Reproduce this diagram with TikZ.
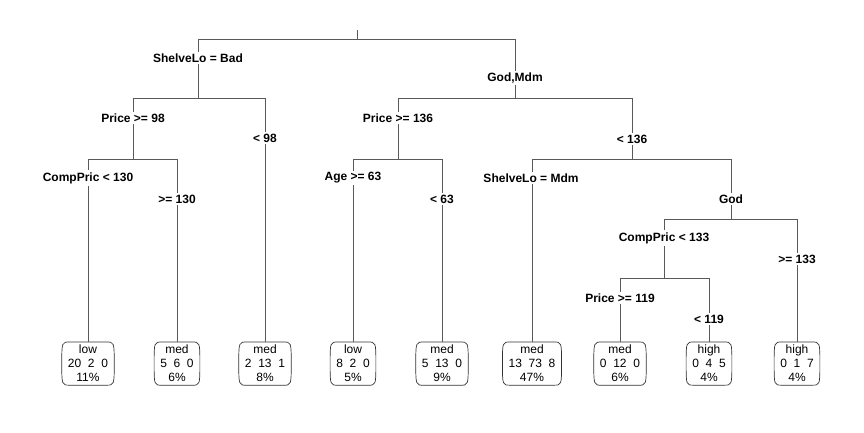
\documentclass[tikz,border=0pt]{standalone}
\usepackage{fontspec}
\setmainfont{Liberation Sans}

\tikzset{
    branch/.style={draw=black!65, line width=0.8pt},
    leafline/.style={draw=black!80, line width=0.7pt},
    splitlabel/.style={fill=white, inner xsep=1pt, inner ysep=2pt, font=\bfseries\fontsize{12}{14}\selectfont},
    leafbox/.style={align=center, anchor=north, inner xsep=6pt, inner ysep=3pt,
        font=\fontsize{12}{14}\selectfont},
}

\begin{document}
\begin{tikzpicture}[x=1pt, y=-1pt]
    \useasboundingbox (0,0) rectangle (864,432);

    % split points
    \coordinate (top) at (357,30);
    \coordinate (n1) at (357,39);
    \coordinate (n2) at (198,98);
    \coordinate (n3) at (515,98);
    \coordinate (n4) at (133,159);
    \coordinate (n5) at (398,159);
    \coordinate (n6) at (632,159);
    \coordinate (n7) at (731,219);
    \coordinate (n8) at (664,278);

    % leaves
    \node[leafbox] (l1) at (88,342) {low\\20~~2~~0\\11\%};
    \node[leafbox] (l2) at (177,342) {med\\5~~6~~0\\6\%};
    \node[leafbox] (l3) at (265,342) {med\\2~~13~~1\\8\%};
    \node[leafbox] (l4) at (353,342) {low\\8~~2~~0\\5\%};
    \node[leafbox] (l5) at (442,342) {med\\5~~13~~0\\9\%};
    \node[leafbox] (l6) at (532,342) {med\\13~~73~~8\\47\%};
    \node[leafbox] (l7) at (620,342) {med\\0~~12~~0\\6\%};
    \node[leafbox] (l8) at (709,342) {high\\0~~4~~5\\4\%};
    \node[leafbox] (l9) at (797,342) {high\\0~~1~~7\\4\%};

    % barrel outlines of the leaves
    \foreach \leaf in {l1,l2,l3,l4,l5,l6,l7,l8,l9}
        \draw[leafline] ([xshift=8pt]\leaf.north west) -- ([xshift=-8pt]\leaf.north east)
            .. controls (\leaf.north east) .. (\leaf.east)
            .. controls (\leaf.south east) .. ([xshift=-8pt]\leaf.south east)
            -- ([xshift=8pt]\leaf.south west)
            .. controls (\leaf.south west) .. (\leaf.west)
            .. controls (\leaf.north west) .. cycle;

    % branches
    \draw[branch] (top) -- (n1);
    \draw[branch] (n1) -| (n2);
    \draw[branch] (n1) -| (n3);
    \draw[branch] (n2) -| (n4);
    \draw[branch] (n2) -| (l3.north);
    \draw[branch] (n4) -| (l1.north);
    \draw[branch] (n4) -| (l2.north);
    \draw[branch] (n3) -| (n5);
    \draw[branch] (n3) -| (n6);
    \draw[branch] (n5) -| (l4.north);
    \draw[branch] (n5) -| (l5.north);
    \draw[branch] (n6) -| (l6.north);
    \draw[branch] (n6) -| (n7);
    \draw[branch] (n7) -| (n8);
    \draw[branch] (n7) -| (l9.north);
    \draw[branch] (n8) -| (l7.north);
    \draw[branch] (n8) -| (l8.north);

    % split labels
    \node[splitlabel] (s1) at (198,58) {ShelveLo = Bad};
    \node[splitlabel] (s2) at (515,78) {God,Mdm};
    \node[splitlabel] (s3) at (133,118) {Price >= 98};
    \node[splitlabel] (s4) at (265,138) {< 98};
    \node[splitlabel] (s5) at (88,178) {CompPric < 130};
    \node[splitlabel] (s6) at (177,199) {>= 130};
    \node[splitlabel] (s7) at (398,118) {Price >= 136};
    \node[splitlabel] (s8) at (632,139) {< 136};
    \node[splitlabel] (s9) at (353,178) {Age >= 63};
    \node[splitlabel] (s10) at (442,199) {< 63};
    \node[splitlabel] (s11) at (531,178) {ShelveLo = Mdm};
    \node[splitlabel] (s12) at (731,199) {God};
    \node[splitlabel] (s13) at (664,238) {CompPric < 133};
    \node[splitlabel] (s14) at (797,259) {>= 133};
    \node[splitlabel] (s15) at (620,298) {Price >= 119};
    \node[splitlabel] (s16) at (709,319) {< 119};
\end{tikzpicture}
\end{document}
